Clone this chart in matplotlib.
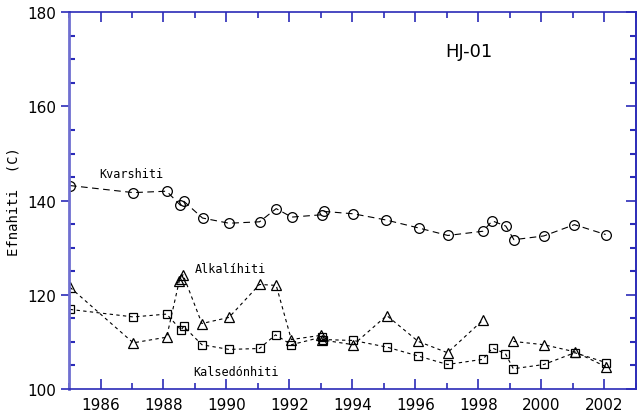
import numpy as np
import matplotlib.pyplot as plt
from matplotlib.ticker import MultipleLocator

# efnahiti, HJ-01
kv_year = [1985.03, 1987.04, 1988.10, 1988.54, 1988.64, 1989.24, 1990.08, 1991.05,
           1991.58, 1992.07, 1993.03, 1993.11, 1994.03, 1995.06, 1996.10, 1997.03,
           1998.15, 1998.44, 1998.87, 1999.13, 2000.08, 2001.05, 2002.04]
kv_temp = [143.2, 141.7, 142.0, 139.0, 139.9, 136.3, 135.2, 135.5,
           138.3, 136.5, 137.0, 137.7, 137.2, 135.9, 134.2, 132.6,
           133.5, 135.7, 134.6, 131.7, 132.5, 134.9, 132.8]

# alkalihiti - no values for two samples in late 1998
alk_year = [1985.03, 1987.04, 1988.10, 1988.50, 1988.56, 1988.62, 1989.22, 1990.08,
            1991.05, 1991.58, 1992.06, 1993.01, 1993.05, 1994.03, 1995.09, 1996.09,
            1997.02, 1998.14, 1998.45, 1998.86, 1999.11, 2000.08, 2001.06, 2002.06]
alk_temp = [121.6, 109.8, 111.0, 122.9, 123.4, 124.3, 113.9, 115.2,
            122.2, 122.0, 110.5, 111.4, 110.4, 109.4, 115.6, 110.1,
            107.7, 114.6, np.nan, np.nan, 110.1, 109.4, 107.9, 104.7]

kal_year = [1985.03, 1987.04, 1988.10, 1988.56, 1988.64, 1989.22, 1990.08, 1991.05,
            1991.56, 1992.06, 1993.02, 1993.06, 1994.03, 1995.09, 1996.09, 1997.02,
            1998.14, 1998.45, 1998.86, 1999.11, 2000.08, 2001.06, 2002.06]
kal_temp = [116.9, 115.3, 115.9, 112.5, 113.3, 109.4, 108.4, 108.6,
            111.5, 109.4, 111.0, 110.5, 110.3, 108.9, 107.0, 105.2,
            106.3, 108.7, 107.5, 104.3, 105.2, 107.7, 105.6]

blue = '#2b2bb8'

fig = plt.figure(figsize=(6.39, 4.14), dpi=100)
ax = fig.add_axes([0.108, 0.058, 0.887, 0.91])

ax.plot(kv_year, kv_temp, color='k', lw=0.8, linestyle=(0, (6, 4)),
        marker='o', ms=7, mfc='none', mec='k', mew=0.9)
ax.plot(alk_year, alk_temp, color='k', lw=0.8, linestyle=(0, (3, 3)),
        marker='^', ms=7, mfc='none', mec='k', mew=0.9)
ax.plot(kal_year, kal_temp, color='k', lw=0.8, linestyle=(0, (3, 3)),
        marker='s', ms=5.5, mfc='none', mec='k', mew=0.9)

ax.set_xlim(1985, 2003)
ax.set_ylim(100, 180)
ax.xaxis.set_major_locator(MultipleLocator(2))
ax.xaxis.set_minor_locator(MultipleLocator(1))
ax.yaxis.set_major_locator(MultipleLocator(20))
ax.yaxis.set_minor_locator(MultipleLocator(5))

for s in ax.spines.values():
    s.set_color(blue)
    s.set_linewidth(1.2)
ax.spines['left'].set_color('#6f6fd0')
ax.spines['left'].set_linewidth(2)

ax.tick_params(axis='x', which='both', direction='in', top=True, color=blue,
               labelsize=11, pad=6)
ax.tick_params(axis='x', which='major', length=7, width=1.2)
ax.tick_params(axis='x', which='minor', length=4, width=1.2)
ax.tick_params(axis='y', which='major', direction='out', length=6, width=1.2,
               color=blue, labelsize=11, right=False)
ax.tick_params(axis='y', which='minor', direction='in', length=4, width=1.5,
               color=blue, right=False)

# right-hand ticks point inward
rax = ax.secondary_yaxis('right')
rax.yaxis.set_major_locator(MultipleLocator(20))
rax.yaxis.set_minor_locator(MultipleLocator(5))
rax.tick_params(which='both', direction='in', color=blue, labelright=False)
rax.tick_params(which='major', length=7, width=1.2)
rax.tick_params(which='minor', length=4, width=1.5)
rax.spines['right'].set_color(blue)
rax.spines['right'].set_linewidth(1.2)

ax.set_ylabel('Efnahiti  (C)', family='DejaVu Sans Mono', fontsize=10)
ax.yaxis.set_label_coords(-0.086, 0.5)

ax.text(1996.95, 171.8, 'HJ-01', fontsize=13, va='center')
mono = dict(family='DejaVu Sans Mono', fontsize=8.5, va='center')
ax.text(1985.95, 145.7, 'Kvarshiti', **mono)
ax.text(1988.99, 125.5, 'Alkalíhiti', **mono)
ax.text(1988.93, 103.7, 'Kalsedónhiti', **mono)

fig.savefig('out.png', dpi=100)
